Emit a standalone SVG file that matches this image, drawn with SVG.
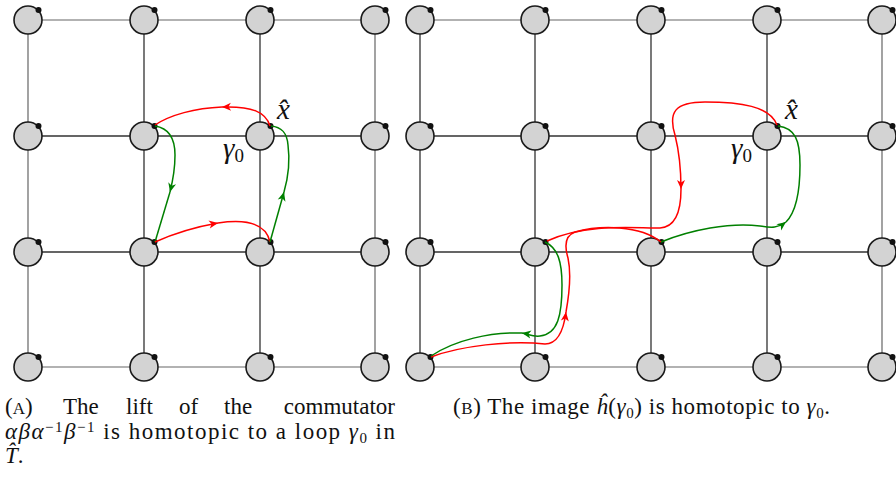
<svg xmlns="http://www.w3.org/2000/svg" width="896" height="478" viewBox="0 0 896 478">
<style>
.ln{stroke:#333;stroke-width:1.3;fill:none}
.lo{stroke:#666;stroke-width:1.2;fill:none}
.nd{fill:#d3d3d3;stroke:#1a1a1a;stroke-width:1.6}
.dt{fill:#111}
.r{stroke:#ff0000;stroke-width:1.5;fill:none}
.g{stroke:#008000;stroke-width:1.5;fill:none}
.r.a{marker-end:url(#ar)}
.g.a{marker-end:url(#ag)}
</style>
<defs>
<marker id="ar" viewBox="-10 -5 12 10" refX="0" refY="0" markerWidth="12" markerHeight="10" markerUnits="userSpaceOnUse" orient="auto"><path d="M-9,-4 L0,0 L-9,4 L-6.5,0 Z" fill="#ff0000"/></marker>
<marker id="ag" viewBox="-10 -5 12 10" refX="0" refY="0" markerWidth="12" markerHeight="10" markerUnits="userSpaceOnUse" orient="auto"><path d="M-9,-4 L0,0 L-9,4 L-6.5,0 Z" fill="#008000"/></marker>
</defs>

<g id="connectors">
<path class="lo" d="M28 20H375M28 367H375M28 20V367M375 20V367"/>
<path class="ln" d="M28 136H375M28 252H375M144 20V367M260 20V367"/>
<path class="lo" d="M420 20H896M420 367H896M882 20V367"/>
<path class="ln" d="M420 136H896M420 252H896M420 20V367M535 20V367M651 20V367M767 20V367"/>
</g>

<g id="nodes">
<g id="L00"><circle class="nd" cx="28" cy="20" r="14"/><circle class="dt" cx="38.5" cy="10" r="3"/></g>
<g id="L10"><circle class="nd" cx="144" cy="20" r="14"/><circle class="dt" cx="154.5" cy="10" r="3"/></g>
<g id="L20"><circle class="nd" cx="260" cy="20" r="14"/><circle class="dt" cx="270.5" cy="10" r="3"/></g>
<g id="L30"><circle class="nd" cx="375" cy="20" r="14"/><circle class="dt" cx="385.5" cy="10" r="3"/></g>
<g id="L01"><circle class="nd" cx="28" cy="136" r="14"/><circle class="dt" cx="38.5" cy="126" r="3"/></g>
<g id="L11"><circle class="nd" cx="144" cy="136" r="14"/><circle class="dt" cx="154.5" cy="126" r="3"/></g>
<g id="L21"><circle class="nd" cx="260" cy="136" r="14"/><circle class="dt" cx="270.5" cy="126" r="3"/></g>
<g id="L31"><circle class="nd" cx="375" cy="136" r="14"/><circle class="dt" cx="385.5" cy="126" r="3"/></g>
<g id="L02"><circle class="nd" cx="28" cy="252" r="14"/><circle class="dt" cx="38.5" cy="242" r="3"/></g>
<g id="L12"><circle class="nd" cx="144" cy="252" r="14"/><circle class="dt" cx="154.5" cy="242" r="3"/></g>
<g id="L22"><circle class="nd" cx="260" cy="252" r="14"/><circle class="dt" cx="270.5" cy="242" r="3"/></g>
<g id="L32"><circle class="nd" cx="375" cy="252" r="14"/><circle class="dt" cx="385.5" cy="242" r="3"/></g>
<g id="L03"><circle class="nd" cx="28" cy="367" r="14"/><circle class="dt" cx="38.5" cy="357" r="3"/></g>
<g id="L13"><circle class="nd" cx="144" cy="367" r="14"/><circle class="dt" cx="154.5" cy="357" r="3"/></g>
<g id="L23"><circle class="nd" cx="260" cy="367" r="14"/><circle class="dt" cx="270.5" cy="357" r="3"/></g>
<g id="L33"><circle class="nd" cx="375" cy="367" r="14"/><circle class="dt" cx="385.5" cy="357" r="3"/></g>

<g id="R00"><circle class="nd" cx="420" cy="20" r="14"/><circle class="dt" cx="430.5" cy="10" r="3"/></g>
<g id="R10"><circle class="nd" cx="535" cy="20" r="14"/><circle class="dt" cx="545.5" cy="10" r="3"/></g>
<g id="R20"><circle class="nd" cx="651" cy="20" r="14"/><circle class="dt" cx="661.5" cy="10" r="3"/></g>
<g id="R30"><circle class="nd" cx="767" cy="20" r="14"/><circle class="dt" cx="777.5" cy="10" r="3"/></g>
<g id="R40"><circle class="nd" cx="882" cy="20" r="14"/><circle class="dt" cx="892.5" cy="10" r="3"/></g>
<g id="R01"><circle class="nd" cx="420" cy="136" r="14"/><circle class="dt" cx="430.5" cy="126" r="3"/></g>
<g id="R11"><circle class="nd" cx="535" cy="136" r="14"/><circle class="dt" cx="545.5" cy="126" r="3"/></g>
<g id="R21"><circle class="nd" cx="651" cy="136" r="14"/><circle class="dt" cx="661.5" cy="126" r="3"/></g>
<g id="R31"><circle class="nd" cx="767" cy="136" r="14"/><circle class="dt" cx="777.5" cy="126" r="3"/></g>
<g id="R41"><circle class="nd" cx="882" cy="136" r="14"/><circle class="dt" cx="892.5" cy="126" r="3"/></g>
<g id="R02"><circle class="nd" cx="420" cy="252" r="14"/><circle class="dt" cx="430.5" cy="242" r="3"/></g>
<g id="R12"><circle class="nd" cx="535" cy="252" r="14"/><circle class="dt" cx="545.5" cy="242" r="3"/></g>
<g id="R22"><circle class="nd" cx="651" cy="252" r="14"/><circle class="dt" cx="661.5" cy="242" r="3"/></g>
<g id="R32"><circle class="nd" cx="767" cy="252" r="14"/><circle class="dt" cx="777.5" cy="242" r="3"/></g>
<g id="R42"><circle class="nd" cx="882" cy="252" r="14"/><circle class="dt" cx="892.5" cy="242" r="3"/></g>
<g id="R03"><circle class="nd" cx="420" cy="367" r="14"/><circle class="dt" cx="430.5" cy="357" r="3"/></g>
<g id="R13"><circle class="nd" cx="535" cy="367" r="14"/><circle class="dt" cx="545.5" cy="357" r="3"/></g>
<g id="R23"><circle class="nd" cx="651" cy="367" r="14"/><circle class="dt" cx="661.5" cy="357" r="3"/></g>
<g id="R33"><circle class="nd" cx="767" cy="367" r="14"/><circle class="dt" cx="777.5" cy="357" r="3"/></g>
<g id="R43"><circle class="nd" cx="882" cy="367" r="14"/><circle class="dt" cx="892.5" cy="357" r="3"/></g>
</g>

<g id="loops">
<path class="r a" d="M270 126C266 112 252 106 222 107"/>
<path class="r" d="M222 107C195 108 170 115 155 125"/>
<path class="g a" d="M155 126C168 128 175 138 175 155C175 170 173 180 170 192"/>
<path class="g" d="M170 192L155 242"/>
<path class="r a" d="M155 242C175 233 195 227 218 223"/>
<path class="r" d="M218 223C245 219 266 223 270 242"/>
<path class="g a" d="M270 242L284 192"/>
<path class="g" d="M284 192C288 178 290 160 288 145C287 133 282 127 271 126"/>
<path class="r a" d="M777 125C770 106 740 102 705 102C675 102 668 112 675 135C680 155 681 170 681 189"/>
<path class="r" d="M681 189C681 210 676 227 660 228C640 229 590 222 547 241"/>
<path class="g a" d="M661 242C690 230 730 222 760 226C772 228 778 228 786 222"/>
<path class="g" d="M786 222C796 212 800 190 800 165C800 140 795 128 778 126"/>
<path class="r a" d="M431 357C460 346 510 340 545 344C556 344 563 335 566 312"/>
<path class="r" d="M566 312C570 290 571 272 568 258C565 248 564 236 575 232C600 225 640 225 661 242"/>
<path class="g a" d="M545 242C558 248 562 262 562 285C562 315 558 334 540 336C533 337 528 334 522 333"/>
<path class="g" d="M522 333C490 332 455 340 431 356"/>
</g>

<g id="labels" font-family="Liberation Serif, serif" fill="#111">
<text x="277" y="119" font-size="29" font-style="italic">x̂</text>
<text x="223" y="158" font-size="29"><tspan font-style="italic">γ</tspan><tspan font-size="19" dy="4">0</tspan></text>
<text x="785" y="119" font-size="29" font-style="italic">x̂</text>
<text x="731" y="158" font-size="29"><tspan font-style="italic">γ</tspan><tspan font-size="19" dy="4">0</tspan></text>
</g>

<g id="captions" font-family="Liberation Serif, serif" font-size="23" fill="#111">
<text y="414"><tspan x="5">(</tspan><tspan font-size="17">A</tspan><tspan>)</tspan><tspan x="63">The</tspan><tspan x="126">lift</tspan><tspan x="179">of</tspan><tspan x="224">the</tspan><tspan x="395" text-anchor="end">commutator</tspan></text>
<text x="5" y="439" textLength="390" lengthAdjust="spacing"><tspan font-style="italic">αβα</tspan><tspan font-size="15" dy="-7">−1</tspan><tspan font-style="italic" dy="7">β</tspan><tspan font-size="15" dy="-7">−1</tspan><tspan dy="7"> is homotopic to a loop </tspan><tspan font-style="italic">γ</tspan><tspan font-size="15" dy="4">0</tspan><tspan dy="-4"> in</tspan></text>
<text x="5" y="463"><tspan font-style="italic">T̂</tspan>.</text>
<text x="453" y="414" textLength="377" lengthAdjust="spacing">(<tspan font-size="17">B</tspan>) The image <tspan font-style="italic">ĥ</tspan>(<tspan font-style="italic">γ</tspan><tspan font-size="15" dy="4">0</tspan><tspan dy="-4">) is homotopic to </tspan><tspan font-style="italic">γ</tspan><tspan font-size="15" dy="4">0</tspan><tspan dy="-4">.</tspan></text>
</g>
</svg>
